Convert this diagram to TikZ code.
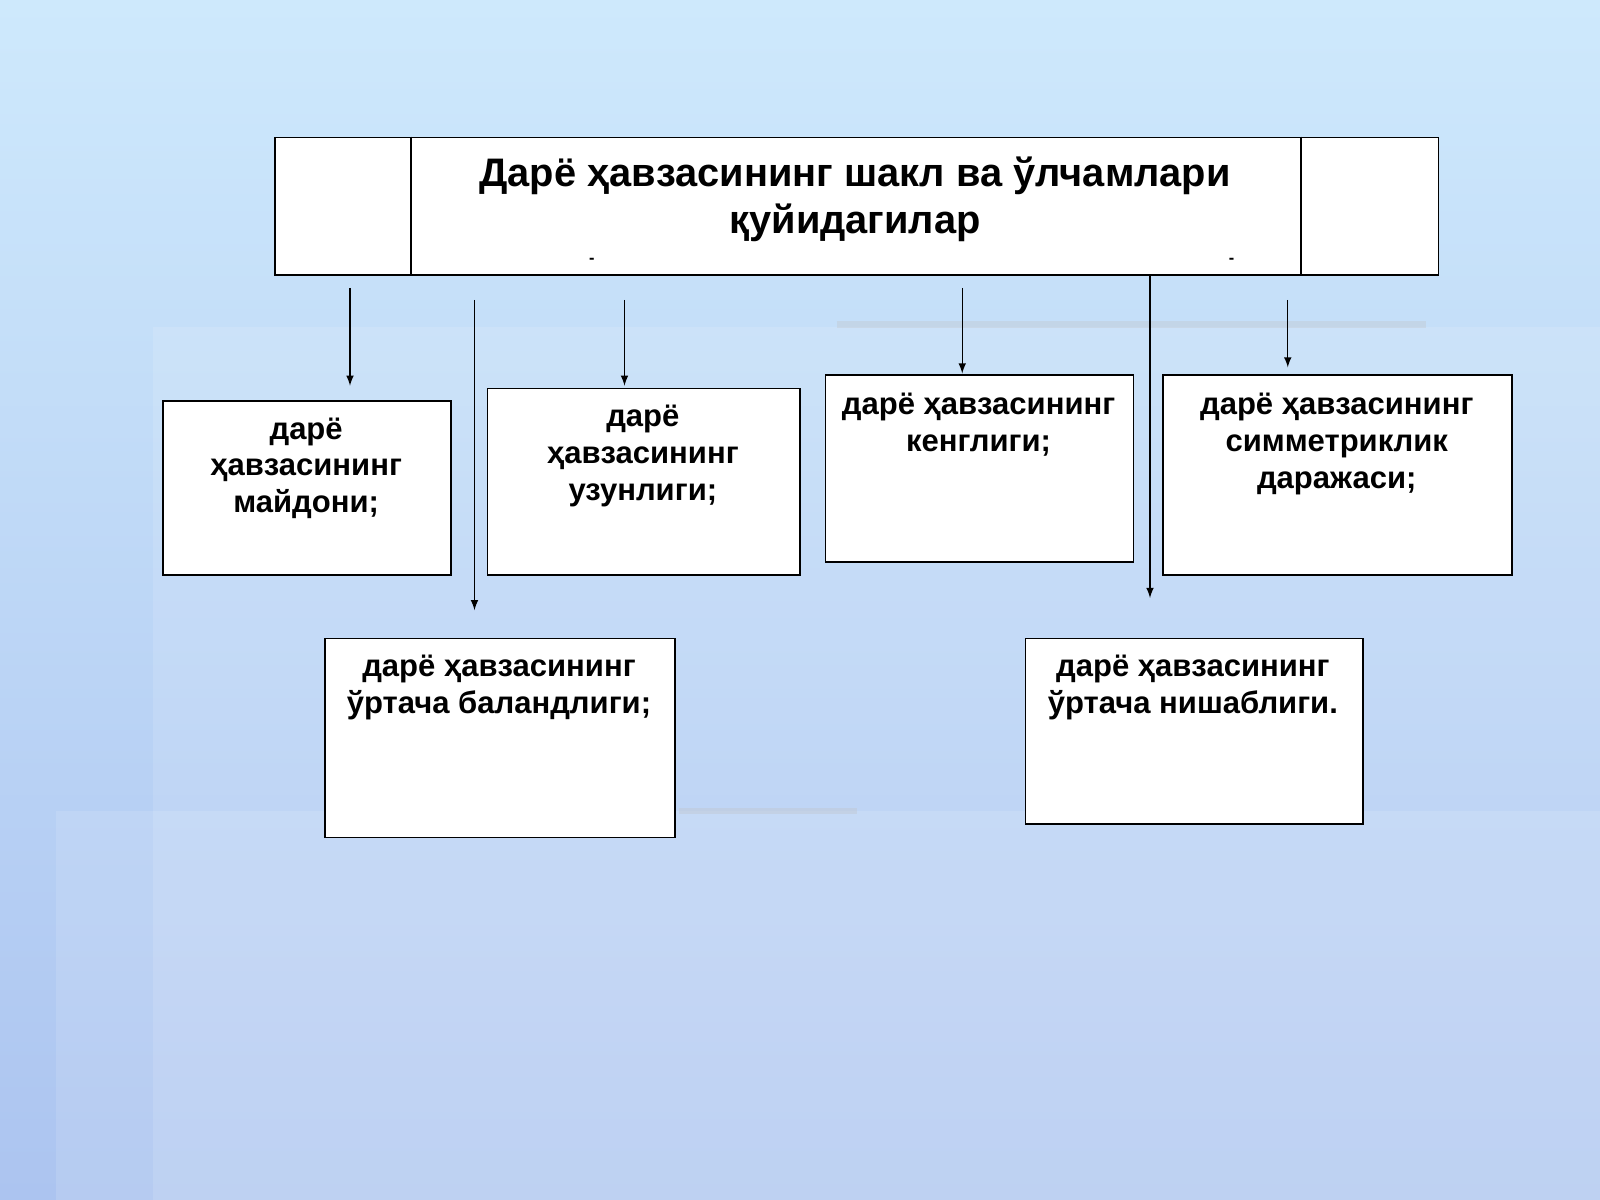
\documentclass[tikz,border=0pt]{standalone}
\usepackage{fontspec}
\setmainfont{Liberation Sans}
\begin{document}
\begin{tikzpicture}[x=0.5pt,y=-0.5pt,
  box/.style={draw=black,line width=0.8pt,fill=white,inner sep=0pt,anchor=north west},
  lbl/.style={anchor=north,align=center,font=\bfseries\fontsize{15.2}{18}\selectfont,inner sep=0pt},
  arr/.style={-latex,line width=0.7pt}]
\useasboundingbox (0,0) rectangle (1568,1176);
\shade[top color={rgb,255:red,206;green,233;blue,252},bottom color={rgb,255:red,172;green,196;blue,240}] (0,0) rectangle (1568,1176);
\fill[white,opacity=0.12] (150,320) rectangle (1568,1176);
\fill[white,opacity=0.12] (55,795) rectangle (1568,1176);
\draw[gray!50,opacity=0.3,line width=3pt] (820,318) -- (1397,318);
\draw[gray!50,opacity=0.3,line width=3pt] (665,795) -- (840,795);
% title
\node[box,minimum width=570pt,minimum height=67.5pt] (t) at (269,134) {};
\draw[line width=0.8pt] (403,134) -- (403,269) (1275,134) -- (1275,269);
\node[lbl,font=\bfseries\fontsize{19.5}{23}\selectfont] (tt) at (838,153) {Дарё ҳавзасининг шакл ва ўлчамлари\\қуйидагилар};
\node[font=\bfseries\fontsize{8}{8}\selectfont] (d1) at (580,256) {-};
\node[font=\bfseries\fontsize{8}{8}\selectfont] (d2) at (1207,256) {-};
% boxes
\node[box,minimum width=141pt,minimum height=85.5pt] (b1) at (159,392) {};
\node[lbl] (l1) at (300,409) {дарё\\ҳавзасининг\\майдони;};
\node[box,minimum width=153pt,minimum height=91.5pt] (b2) at (477,380) {};
\node[lbl] (l2) at (630,397) {дарё\\ҳавзасининг\\узунлиги;};
\node[box,minimum width=151pt,minimum height=91.5pt] (b3) at (808,367) {};
\node[lbl] (l3) at (959,385) {дарё ҳавзасининг\\кенглиги;};
\node[box,minimum width=171pt,minimum height=98pt] (b4) at (1139,367) {};
\node[lbl] (l4) at (1310,385) {дарё ҳавзасининг\\симметриклик\\даражаси;};
\node[box,minimum width=171.5pt,minimum height=97.5pt] (b5) at (318,625) {};
\node[lbl] (l5) at (489,642) {дарё ҳавзасининг\\ўртача баландлиги;};
\node[box,minimum width=165.5pt,minimum height=91pt] (b6) at (1004,625) {};
\node[lbl] (l6) at (1169,642) {дарё ҳавзасининг\\ўртача нишаблиги.};
% arrows
\coordinate (s1) at (343,282); \coordinate (e1) at (343,378);
\coordinate (s2) at (465,294); \coordinate (e2) at (465,598);
\coordinate (s3) at (612,294); \coordinate (e3) at (612,378);
\coordinate (s4) at (943,282); \coordinate (e4) at (943,366);
\coordinate (s5) at (1127,270); \coordinate (e5) at (1127,586);
\coordinate (s6) at (1262,294); \coordinate (e6) at (1262,360);
\foreach \i in {1,...,6} \draw[arr] (s\i) -- (e\i);
\end{tikzpicture}
\end{document}
